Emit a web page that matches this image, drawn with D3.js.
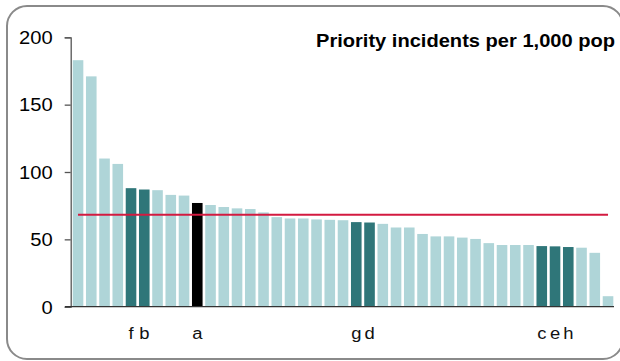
<!DOCTYPE html>
<html>
<head>
<meta charset="utf-8">
<script src="https://cdn.jsdelivr.net/npm/d3@7"></script>
<style>
html,body{margin:0;padding:0;background:#fff;}
svg{display:block;}
text{font-family:"Liberation Sans",Arial,sans-serif;}
</style>
</head>
<body>
<svg id="chart" width="620" height="361"></svg>
<script>
// ---- data ----
const categories = ["","","","","f","b","","","","a","","","","","","","","","","","","g","d","","","","","","","","","","","","","c","e","h","","",""];
const values = [183,171,110,106,88,87,86.5,83,82.5,77,75.5,74,73,72.5,70,66.5,65.5,65.5,64.8,64.5,64.2,62.8,62.5,61.5,58.8,58.8,54,52.2,52.2,51.3,50.3,47.2,45.8,45.8,45.8,45,44.8,44.3,43.8,40,7.8];
const groups = ["o","o","o","o","h","h","o","o","o","s","o","o","o","o","o","o","o","o","o","o","o","h","h","o","o","o","o","o","o","o","o","o","o","o","o","h","h","h","o","o","o"];
const average = [68.3];
const yTicks = [0,50,100,150,200];
const title = ["Priority incidents per 1,000 pop"];
// ----------------

const colors = {o:"#afd5d8", h:"#2f7679", s:"#000000"};
const stretch = 1.15;
const svg = d3.select("#chart");

function widen(sel, f){
  sel.each(function(){
    const w = this.getComputedTextLength();
    if (w > 0) d3.select(this).attr("textLength", w*f).attr("lengthAdjust","spacingAndGlyphs");
  });
}

// frame
svg.append("rect")
  .attr("x",7).attr("y",6).attr("width",616).attr("height",353)
  .attr("rx",20).attr("ry",20)
  .attr("fill","none").attr("stroke","#8a8a8a").attr("stroke-width",2);

const y = d3.scaleLinear().domain([0,200]).range([306.7,37.3]);
const x = d3.scaleBand().domain(d3.range(values.length)).range([71.4,614.65])
  .paddingInner(0.2).paddingOuter(0.1);

// bars
svg.append("g").selectAll("rect").data(values).join("rect")
  .attr("x",(d,i)=>x(i)).attr("width",x.bandwidth())
  .attr("y",d=>y(d)).attr("height",d=>y(0)-y(d))
  .attr("fill",(d,i)=>colors[groups[i]]);

// average line
svg.append("line")
  .attr("x1",x(0)+x.bandwidth()/2).attr("x2",x(values.length-1)+x.bandwidth()/2)
  .attr("y1",y(average[0])).attr("y2",y(average[0]))
  .attr("stroke","#d31a40").attr("stroke-width",2);

// y axis
const yAxis = svg.append("g").attr("transform","translate(70.7,0)")
  .call(d3.axisLeft(y).tickValues(yTicks).tickSize(6).tickPadding(12));
yAxis.select(".domain").attr("stroke","#555").attr("stroke-width",1.3);
yAxis.selectAll(".tick line").attr("stroke","#555").attr("stroke-width",1.3);
yAxis.selectAll(".tick text").attr("fill","#000").style("font-size","17.5px")
  .style("font-family","'Liberation Sans',Arial,sans-serif").attr("dy","0.36em");
widen(yAxis.selectAll(".tick text"), stretch);

// x axis
const xAxis = svg.append("g").attr("transform","translate(0,306.7)")
  .call(d3.axisBottom(x).tickFormat(i=>categories[i]).tickSize(0).tickPadding(21));
xAxis.select(".domain").attr("d","M65,0H614").attr("stroke","#333").attr("stroke-width",1.3);
xAxis.selectAll(".tick text").attr("fill","#111").style("font-size","16px")
  .style("font-family","'Liberation Sans',Arial,sans-serif");
widen(xAxis.selectAll(".tick text"), stretch);

// title
const t = svg.append("text").attr("x",615).attr("y",46.7).attr("text-anchor","end")
  .style("font-size","18.5px").style("font-weight","bold").attr("fill","#000")
  .text(title[0]);
t.attr("textLength",299).attr("lengthAdjust","spacingAndGlyphs");
</script>
</body>
</html>
